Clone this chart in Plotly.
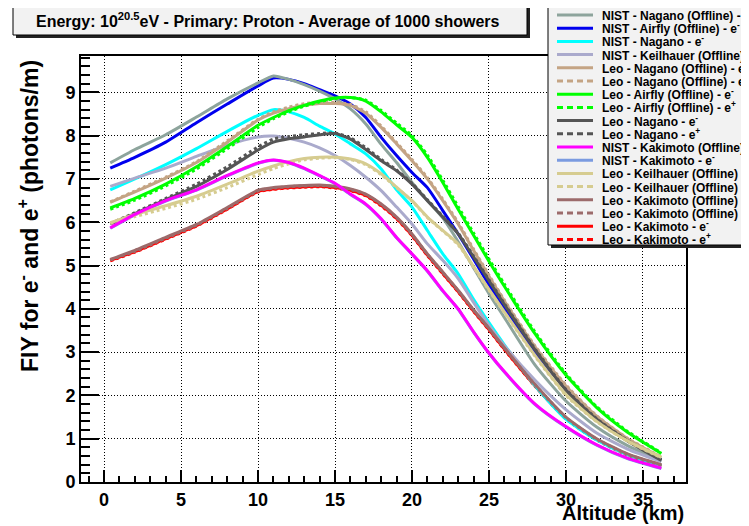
import plotly.graph_objects as go

# ---------------- data ----------------
altitude = [0.4, 2, 4, 6, 8, 10, 11, 12, 13, 14, 15, 16, 17, 18, 19, 20, 21, 22, 23,
            24, 25, 26, 28, 30, 32, 34, 36.2]

nist_nagano_off = [7.37, 7.68, 8.02, 8.43, 8.85, 9.22, 9.38, 9.30, 9.18, 9.03, 8.85, 8.62, 8.27, 7.80,
                   7.38, 6.92, 6.50, 6.10, 5.55, 4.95, 4.35, 3.80, 2.70, 1.87, 1.27, 0.84, 0.48]
nist_airfly_off = [7.25, 7.50, 7.85, 8.30, 8.73, 9.15, 9.33, 9.30, 9.20, 9.06, 8.92, 8.73, 8.42, 7.96,
                   7.54, 7.15, 6.80, 6.27, 5.73, 5.15, 4.55, 4.00, 3.00, 2.15, 1.47, 0.96, 0.52]
nist_nagano = [6.75, 7.00, 7.33, 7.70, 8.10, 8.47, 8.60, 8.55, 8.42, 8.22, 8.04, 7.81, 7.58, 7.23,
               6.75, 6.35, 5.81, 5.27, 4.81, 4.22, 3.68, 3.17, 2.22, 1.45, 0.97, 0.63, 0.38]
nist_keilhauer_off = [6.83, 7.02, 7.25, 7.52, 7.78, 7.97, 7.99, 7.94, 7.85, 7.72, 7.54, 7.31, 7.04, 6.73,
                      6.35, 5.96, 5.50, 5.12, 4.70, 4.15, 3.62, 3.15, 2.35, 1.67, 1.13, 0.76, 0.47]
leo_nagano_off_em = [6.46, 6.70, 7.02, 7.38, 7.85, 8.36, 8.52, 8.62, 8.70, 8.74, 8.74, 8.70, 8.52, 8.19,
                     7.81, 7.42, 7.00, 6.50, 5.96, 5.35, 4.75, 4.18, 3.12, 2.22, 1.52, 1.00, 0.57]
leo_nagano_off_ep = [6.47, 6.72, 7.04, 7.40, 7.88, 8.38, 8.55, 8.66, 8.74, 8.77, 8.77, 8.72, 8.55, 8.22,
                     7.84, 7.45, 7.03, 6.53, 5.99, 5.38, 4.78, 4.20, 3.14, 2.24, 1.53, 1.01, 0.58]
leo_airfly_off_em = [6.33, 6.55, 6.88, 7.28, 7.75, 8.24, 8.42, 8.58, 8.70, 8.80, 8.87, 8.88, 8.80, 8.55,
                     8.25, 7.96, 7.50, 6.92, 6.30, 5.70, 5.10, 4.52, 3.42, 2.47, 1.72, 1.15, 0.66]
leo_airfly_off_ep = [6.30, 6.51, 6.84, 7.23, 7.70, 8.19, 8.39, 8.55, 8.68, 8.78, 8.86, 8.88, 8.82, 8.58,
                     8.29, 8.00, 7.55, 6.97, 6.36, 5.75, 5.15, 4.57, 3.46, 2.50, 1.74, 1.17, 0.67]
leo_nagano_em = [5.96, 6.20, 6.52, 6.83, 7.22, 7.67, 7.85, 7.93, 7.97, 8.02, 8.05, 7.92, 7.68, 7.42,
                 7.19, 6.88, 6.50, 6.12, 5.73, 5.20, 4.65, 4.10, 3.05, 2.12, 1.45, 0.95, 0.50]
leo_nagano_ep = [5.97, 6.22, 6.55, 6.88, 7.28, 7.74, 7.92, 7.98, 8.02, 8.05, 8.06, 7.95, 7.72, 7.45,
                 7.21, 6.90, 6.52, 6.14, 5.75, 5.22, 4.67, 4.12, 3.07, 2.14, 1.46, 0.96, 0.51]
nist_kakimoto_off = [5.87, 6.18, 6.50, 6.75, 7.08, 7.37, 7.44, 7.38, 7.25, 7.08, 6.90, 6.65, 6.42, 6.08,
                     5.65, 5.27, 4.88, 4.42, 4.00, 3.47, 2.98, 2.55, 1.80, 1.28, 0.86, 0.55, 0.32]
nist_kakimoto = [5.86, 6.17, 6.49, 6.74, 7.07, 7.36, 7.43, 7.37, 7.24, 7.07, 6.89, 6.64, 6.41, 6.07,
                 5.64, 5.26, 4.87, 4.41, 3.99, 3.46, 2.97, 2.54, 1.79, 1.27, 0.85, 0.54, 0.31]
leo_keilhauer_off_em = [5.99, 6.18, 6.38, 6.60, 6.88, 7.18, 7.30, 7.40, 7.47, 7.50, 7.50, 7.46, 7.35, 7.12,
                        6.81, 6.50, 6.12, 5.81, 5.50, 4.98, 4.45, 3.93, 2.92, 2.02, 1.40, 0.95, 0.57]
leo_keilhauer_off_ep = [5.97, 6.13, 6.32, 6.53, 6.80, 7.10, 7.24, 7.35, 7.44, 7.48, 7.49, 7.45, 7.33, 7.10,
                        6.80, 6.49, 6.11, 5.80, 5.48, 4.96, 4.43, 3.91, 2.90, 2.00, 1.39, 0.94, 0.56]
leo_kakimoto_off_em = [5.14, 5.35, 5.65, 5.95, 6.34, 6.74, 6.80, 6.83, 6.85, 6.86, 6.83, 6.77, 6.65, 6.42,
                       6.12, 5.73, 5.27, 4.85, 4.43, 3.98, 3.55, 3.10, 2.25, 1.50, 1.00, 0.65, 0.40]
leo_kakimoto_off_ep = [5.13, 5.33, 5.63, 5.93, 6.32, 6.72, 6.79, 6.82, 6.84, 6.85, 6.82, 6.76, 6.64, 6.41,
                       6.11, 5.72, 5.26, 4.84, 4.42, 3.97, 3.54, 3.09, 2.24, 1.49, 0.99, 0.64, 0.39]
leo_kakimoto_em = [5.12, 5.32, 5.62, 5.92, 6.31, 6.71, 6.77, 6.80, 6.82, 6.83, 6.80, 6.74, 6.62, 6.39,
                   6.09, 5.70, 5.24, 4.82, 4.40, 3.95, 3.52, 3.07, 2.22, 1.47, 0.98, 0.63, 0.38]
leo_kakimoto_ep = [5.11, 5.31, 5.61, 5.91, 6.30, 6.70, 6.76, 6.79, 6.81, 6.82, 6.79, 6.73, 6.61, 6.38,
                   6.08, 5.69, 5.23, 4.81, 4.39, 3.94, 3.51, 3.06, 2.21, 1.46, 0.97, 0.62, 0.37]

legend_labels = [
    "NIST - Nagano (Offline) - e<sup>-</sup>",
    "NIST - Airfly (Offline) - e<sup>-</sup>",
    "NIST - Nagano - e<sup>-</sup>",
    "NIST - Keilhauer (Offline) - e<sup>-</sup>",
    "Leo - Nagano (Offline) - e<sup>-</sup>",
    "Leo - Nagano (Offline) - e<sup>+</sup>",
    "Leo - Airfly (Offline) - e<sup>-</sup>",
    "Leo - Airfly (Offline) - e<sup>+</sup>",
    "Leo - Nagano - e<sup>-</sup>",
    "Leo - Nagano - e<sup>+</sup>",
    "NIST - Kakimoto (Offline) - e<sup>-</sup>",
    "NIST - Kakimoto - e<sup>-</sup>",
    "Leo - Keilhauer (Offline) - e<sup>-</sup>",
    "Leo - Keilhauer (Offline) - e<sup>+</sup>",
    "Leo - Kakimoto (Offline) - e<sup>-</sup>",
    "Leo - Kakimoto (Offline) - e<sup>+</sup>",
    "Leo - Kakimoto - e<sup>-</sup>",
    "Leo - Kakimoto - e<sup>+</sup>",
]
series_values = [nist_nagano_off, nist_airfly_off, nist_nagano, nist_keilhauer_off,
                 leo_nagano_off_em, leo_nagano_off_ep, leo_airfly_off_em, leo_airfly_off_ep,
                 leo_nagano_em, leo_nagano_ep, nist_kakimoto_off, nist_kakimoto,
                 leo_keilhauer_off_em, leo_keilhauer_off_ep, leo_kakimoto_off_em, leo_kakimoto_off_ep,
                 leo_kakimoto_em, leo_kakimoto_ep]
colors = ["#8da49c", "#0000ee", "#00ffff", "#aaaacc",
          "#c4a484", "#c4a484", "#00ff00", "#00ff00",
          "#555555", "#555555", "#ff00ff", "#7b9be0",
          "#d6cc90", "#d6cc90", "#9c6b6b", "#9c6b6b",
          "#ff0000", "#ff0000"]
dashed = [False, False, False, False, False, True, False, True, False, True,
          False, False, False, True, False, True, False, True]

title_text = "Energy: 10<sup>20.5</sup>eV - Primary: Proton - Average of 1000 showers"
x_title = "Altitude (km)"
y_title = "FIY for e<sup>-</sup> and e<sup>+</sup> (photons/m)"

# ---------------- layout geometry ----------------
# the page body has an 8px margin: the figure starts at (8, 8) of the window
OFF = 8
WIN_W, WIN_H = 749, 526
W, H = WIN_W - OFF, WIN_H - OFF
# plot frame, in window pixels
L, R, T, B = 81, 686, 56, 482
FONT = "Liberation Sans, Arial, Helvetica, sans-serif"


def px(xp):
    return (xp - L) / (R - L)


def py(yp):
    return (B - yp) / (B - T)


fig = go.Figure()

# drawing order: hidden curves first
draw_order = [16, 17, 11, 1, 0, 2, 3, 4, 5, 6, 7, 8, 9, 12, 13, 14, 15, 10]
for i in draw_order:
    fig.add_trace(go.Scatter(
        x=altitude, y=series_values[i], mode="lines",
        line=dict(color=colors[i], width=3, shape="spline", smoothing=0.6,
                  dash="3px,3px" if dashed[i] else "solid"),
        showlegend=False, hoverinfo="skip",
        name=legend_labels[i].replace("<sup>", "").replace("</sup>", ""),
    ))

shapes = []
annotations = []

# title pave with shadow
shapes.append(dict(type="rect", xref="paper", yref="paper", layer="above",
                   x0=px(16), x1=px(530), y0=py(38), y1=py(8),
                   fillcolor="#222222", line=dict(width=0)))
shapes.append(dict(type="rect", xref="paper", yref="paper", layer="above",
                   x0=px(13), x1=px(527), y0=py(35), y1=py(5),
                   fillcolor="#f2f2f2", line=dict(color="black", width=1)))
annotations.append(dict(text=title_text, xref="paper", yref="paper",
                        x=px(268), y=py(20), xanchor="center", yanchor="middle",
                        showarrow=False,
                        font=dict(family=FONT, size=16, color="black", weight="bold")))

# legend pave with shadow
shapes.append(dict(type="rect", xref="paper", yref="paper", layer="above",
                   x0=px(551), x1=px(770), y0=py(248), y1=py(8),
                   fillcolor="#222222", line=dict(width=0)))
shapes.append(dict(type="rect", xref="paper", yref="paper", layer="above",
                   x0=px(548), x1=px(767), y0=py(245), y1=py(5),
                   fillcolor="#f2f2f2", line=dict(color="black", width=1)))
for k, lab in enumerate(legend_labels):
    yk = 15 + k * 13.2
    shapes.append(dict(type="line", xref="paper", yref="paper", layer="above",
                       x0=px(557), x1=px(593), y0=py(yk), y1=py(yk),
                       line=dict(color=colors[k], width=3,
                                 dash="6px,4px" if dashed[k] else "solid")))
    annotations.append(dict(text=lab, xref="paper", yref="paper",
                            x=px(600), y=py(yk), xanchor="left", yanchor="middle",
                            showarrow=False,
                            font=dict(family=FONT, size=12, color="black", weight="bold")))

# axis titles
annotations.append(dict(text=x_title, xref="paper", yref="paper",
                        x=px(686), y=py(513), xanchor="right", yanchor="middle",
                        showarrow=False,
                        font=dict(family=FONT, size=20, color="black", weight="bold")))
annotations.append(dict(text=y_title, xref="paper", yref="paper", textangle=-90,
                        x=px(28), y=py(216), xanchor="center", yanchor="middle",
                        showarrow=False,
                        font=dict(family=FONT, size=23, color="black", weight="bold")))

axis_common = dict(
    showline=True, linewidth=2, linecolor="black", mirror=True,
    ticks="inside", tickwidth=2, tickcolor="black",
    showgrid=True, gridcolor="black", griddash="1px,2px", gridwidth=1,
    zeroline=False,
    tickfont=dict(family=FONT, size=18, color="black", weight="bold"),
)

fig.update_layout(
    width=W, height=H,
    margin=dict(l=L - OFF, r=WIN_W - R, t=T - OFF, b=WIN_H - B, pad=0),
    paper_bgcolor="white", plot_bgcolor="white",
    showlegend=False,
    xaxis=dict(range=[-1.5, 37.8], tickmode="linear", tick0=0, dtick=5, ticklen=12,
               minor=dict(dtick=1, ticks="inside", ticklen=6, tickwidth=1.5,
                          tickcolor="black", showgrid=False),
               **axis_common),
    yaxis=dict(range=[0, 9.84], tickmode="linear", tick0=0, dtick=1, ticklen=18,
               minor=dict(dtick=0.2, ticks="inside", ticklen=9, tickwidth=1.5,
                          tickcolor="black", showgrid=False),
               **axis_common),
    shapes=shapes,
    annotations=annotations,
)

fig.write_html("out.html")
